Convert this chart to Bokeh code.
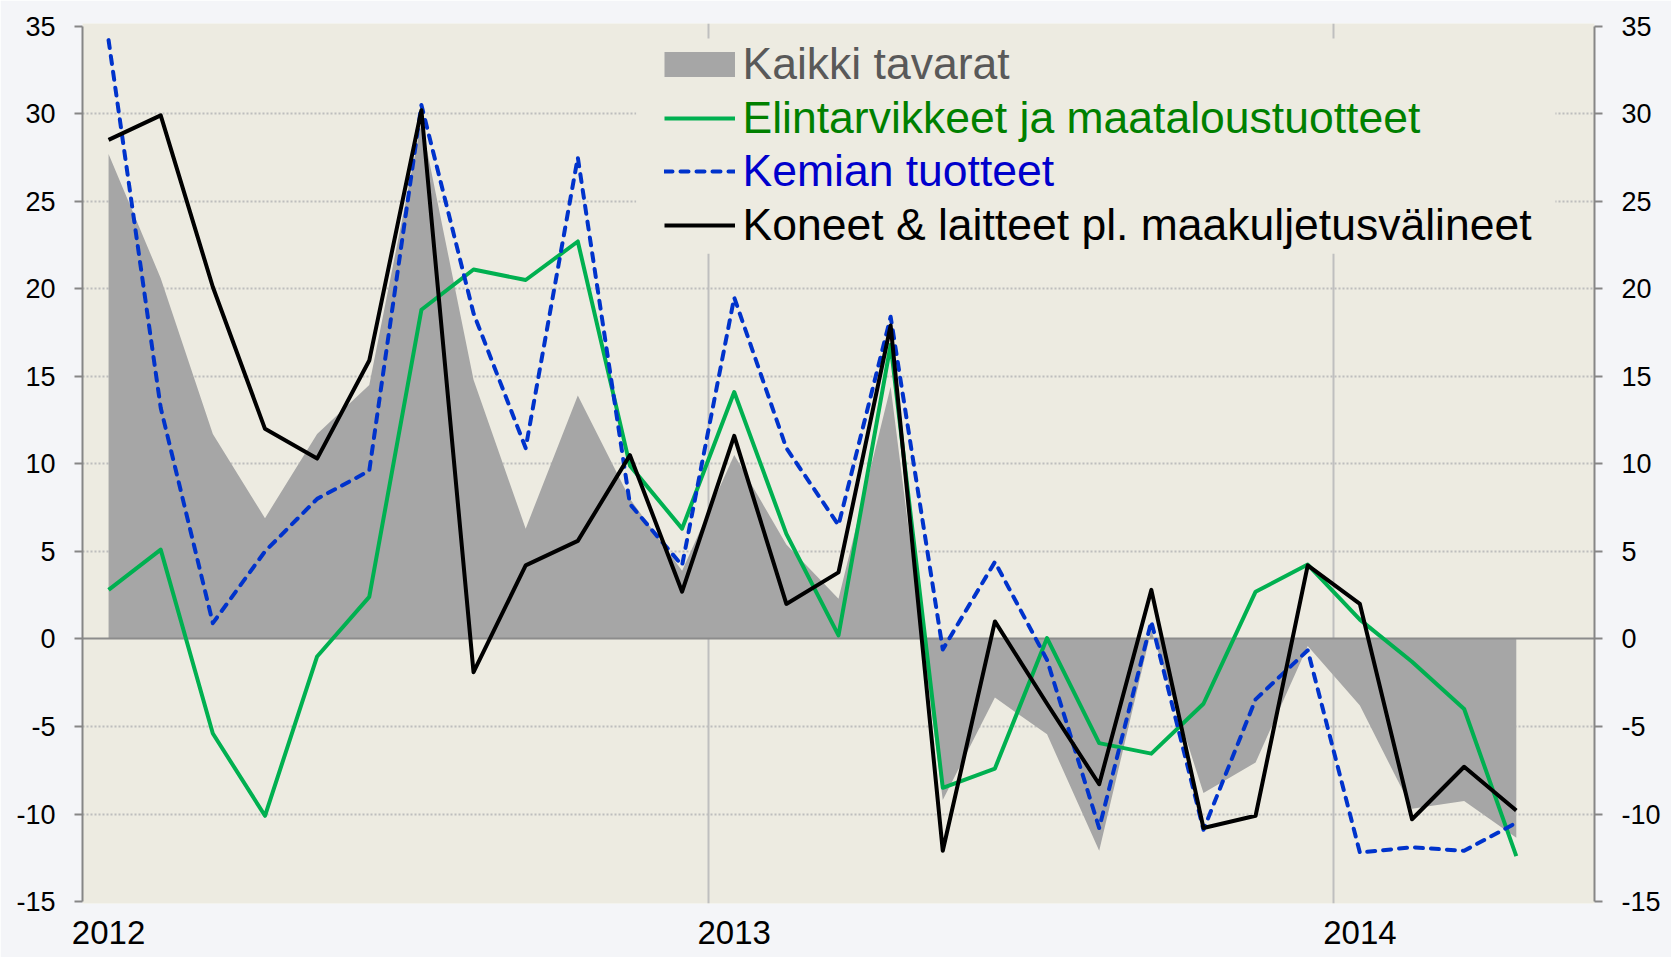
from bokeh.plotting import figure
from bokeh.models import (Range1d, FixedTicker, LinearAxis, Legend, LegendItem,
                          BoxAnnotation)
from bokeh.embed import file_html
from bokeh.resources import INLINE

# ---- data: monthly change, %, Jan 2012 .. Apr 2014 ----
months = ["2012-01", "2012-02", "2012-03", "2012-04", "2012-05", "2012-06",
          "2012-07", "2012-08", "2012-09", "2012-10", "2012-11", "2012-12",
          "2013-01", "2013-02", "2013-03", "2013-04", "2013-05", "2013-06",
          "2013-07", "2013-08", "2013-09", "2013-10", "2013-11", "2013-12",
          "2014-01", "2014-02", "2014-03", "2014-04"]

kaikki = [27.7, 20.6, 11.7, 6.9, 11.7, 14.5, 29.5, 14.8, 6.3, 13.9, 8.0, 3.9,
          10.5, 5.4, 2.3, 14.4, -9.2, -3.35, -5.45, -12.1, 0.5, -8.8, -7.05, -0.4,
          -3.8, -9.7, -9.25, -11.35]
elintarvikkeet = [2.8, 5.1, -5.4, -10.1, -1.0, 2.4, 18.8, 21.1, 20.5, 22.7, 9.9, 6.3,
                  14.1, 6.0, 0.2, 16.8, -8.5, -7.4, 0.05, -5.95, -6.55, -3.7, 2.7, 4.25,
                  1.1, -1.3, -4.0, -12.4]
kemian = [34.2, 13.2, 0.9, 5.0, 8.0, 9.6, 30.5, 18.6, 10.9, 27.5, 7.7, 4.2,
          19.5, 10.9, 6.5, 18.4, -0.6, 4.4, -1.2, -10.8, 1.0, -10.9, -3.45, -0.65,
          -12.2, -11.9, -12.1, -10.5]
koneet = [28.5, 29.9, 20.1, 12.0, 10.3, 15.9, 30.2, -1.9, 4.2, 5.6, 10.5, 2.7,
          11.6, 2.0, 3.8, 17.9, -12.1, 1.0, -3.7, -8.3, 2.8, -10.8, -10.1, 4.2,
          2.0, -10.3, -7.3, -9.8]

series_labels = ["Kaikki tavarat", "Elintarvikkeet ja maataloustuotteet",
                 "Kemian tuotteet", "Koneet & laitteet pl. maakuljetusvälineet"]
year_labels = ["2012", "2013", "2014"]
year_positions = [0, 12, 24]
year_boundaries = [11.5, 23.5]
y_ticks = [-15, -10, -5, 0, 5, 10, 15, 20, 25, 30, 35]

x = list(range(len(months)))

# ---- styles ----
FONT = "Liberation Sans"
BEIGE = "#EDEBE1"
GRAY_AREA = "#A6A6A6"
GREEN = "#00B050"
BLUE = "#0033CC"
BLACK = "#000000"
AXIS_GRAY = "#868686"

p = figure(width=1671, height=957,
           x_range=Range1d(-0.5, 28.5), y_range=Range1d(-15.11, 35.15),
           output_backend="svg", toolbar_location=None,
           x_axis_location="below", y_axis_location="left",
           background_fill_color=BEIGE, border_fill_color="#F4F5F8",
           min_border_left=82, min_border_right=77,
           min_border_top=23, min_border_bottom=54)
p.outline_line_color = None

# x axis: year labels only
xa = p.xaxis[0]
xa.ticker = FixedTicker(ticks=year_positions)
xa.major_label_overrides = {pos: lab for pos, lab in zip(year_positions, year_labels)}
xa.axis_line_color = None
xa.major_tick_line_color = None
xa.minor_tick_line_color = None
xa.major_tick_out = 0
xa.major_tick_in = 0
xa.minor_tick_out = 0
xa.minor_tick_in = 0
xa.major_label_standoff = 17
xa.major_label_text_font = FONT
xa.major_label_text_font_size = "33px"
xa.major_label_text_color = "#000000"

# grids
p.xgrid.ticker = FixedTicker(ticks=year_boundaries)
p.xgrid.grid_line_color = "#BFBFBF"
p.xgrid.grid_line_width = 2
p.ygrid.ticker = FixedTicker(ticks=[t for t in y_ticks if t not in (-15, 0, 35)])
p.ygrid.grid_line_color = "#BDBDBD"
p.ygrid.grid_line_width = 2
p.ygrid.grid_line_dash = "2 2"

# y axes
overrides = {t: str(t) for t in y_ticks}


def style_axis(ax):
    ax.ticker = FixedTicker(ticks=y_ticks)
    ax.bounds = (-15, 35)
    ax.axis_line_color = AXIS_GRAY
    ax.axis_line_width = 2
    ax.major_tick_line_color = AXIS_GRAY
    ax.major_tick_line_width = 2
    ax.major_tick_out = 8
    ax.major_tick_in = 0
    ax.minor_tick_out = 0
    ax.minor_tick_in = 0
    ax.major_label_text_font = FONT
    ax.major_label_text_font_size = "27px"
    ax.major_label_text_color = "#000000"
    ax.major_label_standoff = 19
    ax.major_label_overrides = overrides


style_axis(p.yaxis[0])
right_axis = LinearAxis()
style_axis(right_axis)
p.add_layout(right_axis, "right")

# area + zero line + lines
p.varea(x=x, y1=0, y2=kaikki, fill_color=GRAY_AREA)
p.hspan(y=[0], line_color="#8C8C8C", line_width=2)
r_green = p.line(x=x, y=elintarvikkeet, line_color=GREEN, line_width=4, line_join="round")
r_blue = p.line(x=x, y=kemian, line_color=BLUE, line_width=4, line_dash="8 8",
                line_cap="round", line_join="round")
r_black = p.line(x=x, y=koneet, line_color=BLACK, line_width=4, line_join="round")
# legend swatch for the area series (hidden in the plot, drawn only in the legend)
r_swatch = p.line(x=x, y=kaikki, line_color=GRAY_AREA, line_width=25, visible=False)

# legend background (covers grid lines behind the legend)
p.add_layout(BoxAnnotation(left=10.12, right=27.75, bottom=22.0, top=34.3,
                           fill_color=BEIGE, fill_alpha=1.0, line_color=None))

legend_rows = [(series_labels[0], r_swatch, "#595959"),
               (series_labels[1], r_green, "#008000"),
               (series_labels[2], r_blue, "#0000CC"),
               (series_labels[3], r_black, "#000000")]
for k, (lab, rend, col) in enumerate(legend_rows):
    lg = Legend(items=[LegendItem(label=lab, renderers=[rend])],
                location=(581.5, 814 - 53.7 * k),
                glyph_width=71, glyph_height=50, label_height=50,
                label_standoff=8, padding=0, spacing=0, margin=0,
                border_line_color=None, background_fill_alpha=0,
                inactive_fill_alpha=0,
                label_text_font=FONT, label_text_font_size="44.5px",
                label_text_color=col)
    p.add_layout(lg)

open("out.html", "w").write(file_html(p, INLINE))
